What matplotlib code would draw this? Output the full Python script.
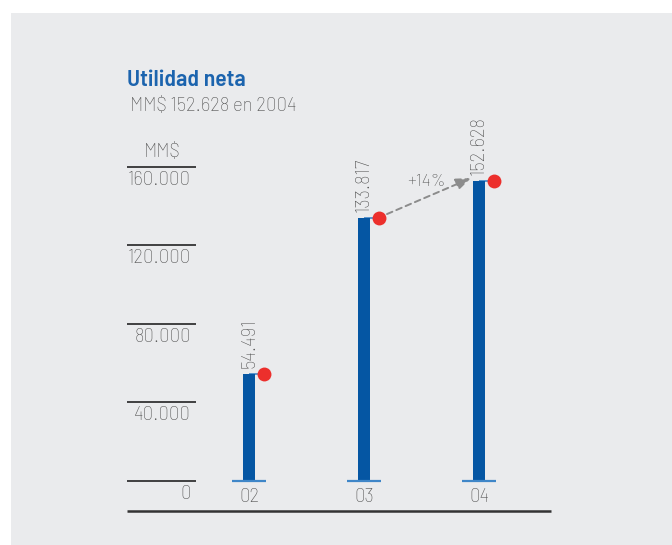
import matplotlib
matplotlib.use("Agg")
import matplotlib.pyplot as plt
from matplotlib.patches import Rectangle

plt.rcParams['font.family'] = ['Barlow', 'DejaVu Sans']

# Data
years = ["02", "03", "04"]
utilidad = [54491, 133817, 152628]
value_labels = ["54.491", "133.817", "152.628"]
y_ticks = [0, 40000, 80000, 120000, 160000]
y_tick_labels = ["0", "40.000", "80.000", "120.000", "160.000"]
growth_label = "+14%"
title = "Utilidad neta"
subtitle = "MM$ 152.628 en 2004"
unit = "MM$"

# Colours
BG = "#EAEBED"
BAR = "#0556A3"
CAP = "#3F86C8"
DOT = "#EC2F2C"
TXT = "#505050"
LINE = "#333333"
TITLE = "#1C64AE"
ARROW = "#8C8C8C"

W, H = 672, 545
fig = plt.figure(figsize=(W / 100, H / 100), dpi=100)
fig.patch.set_facecolor("white")
fig.patches.append(Rectangle((11 / W, 0), 1 - 11 / W, (H - 13) / H,
                             transform=fig.transFigure, facecolor=BG,
                             edgecolor="none", zorder=-10))

ax = fig.add_axes([0, 0, 1, 1])
ax.set_facecolor("none")
ax.axis("off")

# scale: one category step = 115 px, 40.000 = 78.6 px, first bar at x=249 px, zero at y=481 px
step_px, unit_px = 115.0, 78.6 / 40000
x0_px, y0_px = 249.0, 481.0
ax.set_xlim(-x0_px / step_px, (W - x0_px) / step_px)
ax.set_ylim(-(H - y0_px) / unit_px, y0_px / unit_px)

def dx(px):
    return px / step_px

def dy(px):
    return px / unit_px

xs = list(range(len(years)))
FS = 13.3

# horizontal guide lines with their labels
gl_left, gl_right = dx(127 - x0_px), dx(196 - x0_px)
for t, lab in zip(y_ticks, y_tick_labels):
    ax.hlines(t, gl_left, gl_right, color=LINE, lw=1.3, zorder=2)
    ax.text(dx(191 - x0_px), t - dy(4), lab, ha="right", va="top",
            fontsize=FS, fontweight="light", color=TXT)
ax.text(dx(162 - x0_px), y_ticks[-1] + dy(6), unit, ha="center", va="bottom",
        fontsize=FS, fontweight="light", color=TXT)

# bars
ax.bar(xs, utilidad, width=dx(12), color=BAR, zorder=3)
for x, v, lab in zip(xs, utilidad, value_labels):
    ax.hlines(0, x - dx(17), x + dx(17), color=CAP, lw=1.6, zorder=4)
    ax.hlines(v, x, x + dx(15), color=CAP, lw=1.2, zorder=2)
    ax.plot(x + dx(15), v, "o", ms=10, color=DOT, mec="none", zorder=5)
    ax.text(x, v + dy(6), lab, rotation=90, ha="center", va="bottom",
            fontsize=FS, fontweight="light", color=TXT)
    ax.text(x, -dy(7), years[x], ha="center", va="top",
            fontsize=FS, fontweight="light", color=TXT)

# bottom rule
ax.hlines(-dy(30), gl_left, dx(551 - x0_px), color=LINE, lw=1.8, zorder=2)

# growth arrow between the last two years
ax.annotate("", xy=(xs[2] - dx(8), utilidad[2] + dy(3)),
            xytext=(xs[1] + dx(23), utilidad[1] + dy(4)),
            arrowprops=dict(arrowstyle="-|>,head_length=0.9,head_width=0.35",
                            color=ARROW, lw=1.4, linestyle=(0, (3, 2.2)),
                            shrinkA=0, shrinkB=0),
            zorder=4)
ax.text((xs[1] + xs[2]) / 2 + dx(5), utilidad[2] + dy(-1), growth_label,
        ha="center", va="center", fontsize=12.5, fontweight="light", color=TXT)

# headings
fig.text(127 / W, 1 - 70 / H, title, ha="left", va="top", fontsize=17,
         fontweight="semibold", color=TITLE, family="Barlow Semi Condensed")
fig.text(130 / W, 1 - 97 / H, subtitle, ha="left", va="top", fontsize=FS,
         fontweight="light", color=TXT)

fig.savefig("out.png", dpi=100, facecolor=fig.get_facecolor())
